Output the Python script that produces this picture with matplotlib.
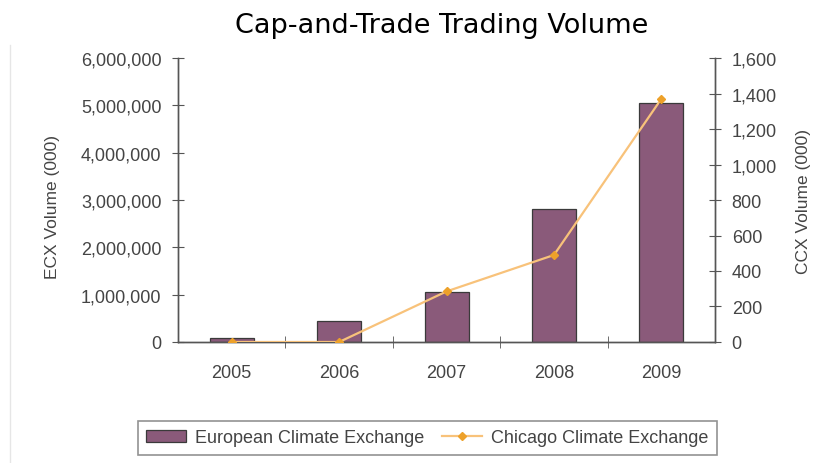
import matplotlib.pyplot as plt
from matplotlib.ticker import FuncFormatter
import matplotlib.lines as mlines
import matplotlib.patches as mpatches
import numpy as np

years = ['2005', '2006', '2007', '2008', '2009']
ecx_volume = [90000, 450000, 1060000, 2810000, 5050000]
ccx_volume = [0, 0, 285, 490, 1370]

plt.rcParams['font.family'] = ['Liberation Sans', 'DejaVu Sans']

bar_color = '#8a5a7a'
line_color = '#f8c27a'
marker_color = '#eda12a'
axis_color = '#555555'
text_color = '#444444'

fig = plt.figure(figsize=(8.3, 4.64), dpi=100)
ax = fig.add_axes([0.2145, 0.2608, 0.6470, 0.6120])
ax2 = ax.twinx()

x = np.arange(len(years))
ax.bar(x, ecx_volume, width=0.41, color=bar_color, edgecolor='#3a3a3a', linewidth=0.9, zorder=2)
ax2.plot(x, ccx_volume, color=line_color, linewidth=1.6, marker='D', markersize=4.5,
         markerfacecolor=marker_color, markeredgecolor=marker_color, zorder=3)

ax.set_xlim(-0.5, 4.5)
ax.set_ylim(0, 6000000)
ax2.set_ylim(0, 1600)
ax.set_yticks(np.arange(0, 6000001, 1000000))
ax2.set_yticks(np.arange(0, 1601, 200))
ax.yaxis.set_major_formatter(FuncFormatter(lambda v, p: f'{int(v):,}'))
ax2.yaxis.set_major_formatter(FuncFormatter(lambda v, p: f'{int(v):,}'))

# category labels centred, tick marks between categories
ax.set_xticks(x)
ax.set_xticklabels(years)
ax.set_xticks(np.arange(0.5, 4.5, 1), minor=True)
ax.tick_params(axis='x', which='major', length=0, pad=16, labelsize=13, labelcolor=text_color)
ax.tick_params(axis='x', which='minor', direction='inout', length=8, color=axis_color)

for a in (ax, ax2):
    a.spines['top'].set_visible(False)
    for s in ('left', 'right', 'bottom'):
        a.spines[s].set_color(axis_color)
        a.spines[s].set_linewidth(1.0)
ax.tick_params(axis='y', direction='inout', length=8, color=axis_color,
               labelsize=13, labelcolor=text_color, pad=8)
ax2.tick_params(axis='y', direction='inout', length=8, color=axis_color,
                labelsize=13, labelcolor=text_color, pad=8)
ax.patch.set_visible(False)

ax.set_ylabel('ECX Volume (000)', fontsize=12.5, color=text_color)
ax2.set_ylabel('CCX Volume (000)', fontsize=12.5, color=text_color, labelpad=14)
ax.yaxis.set_label_coords(-0.22, 0.48)

fig.text(0.532, 0.944, 'Cap-and-Trade Trading Volume', ha='center', va='center',
         fontsize=19.5, family='DejaVu Sans', color='black')

# faint image frame on the left
fig.add_artist(mlines.Line2D([0.012, 0.012], [0.0, 0.9], transform=fig.transFigure,
                             color='#e6e6e6', linewidth=1))

bar_handle = mpatches.Patch(facecolor=bar_color, edgecolor='#3a3a3a', linewidth=0.9)
line_handle = mlines.Line2D([], [], color=line_color, linewidth=1.6, marker='D', markersize=4.5,
                            markerfacecolor=marker_color, markeredgecolor=marker_color)
leg = fig.legend([bar_handle, line_handle], ['European Climate Exchange', 'Chicago Climate Exchange'],
                 loc='center', bbox_to_anchor=(0.515, 0.054), ncol=2, fontsize=13,
                 frameon=True, fancybox=False, edgecolor='#777777', handlelength=2.2,
                 columnspacing=1.0, handletextpad=0.5, borderpad=0.45)
leg.get_frame().set_linewidth(1.2)
for t in leg.get_texts():
    t.set_color(text_color)

fig.savefig('out.png', dpi=100)
